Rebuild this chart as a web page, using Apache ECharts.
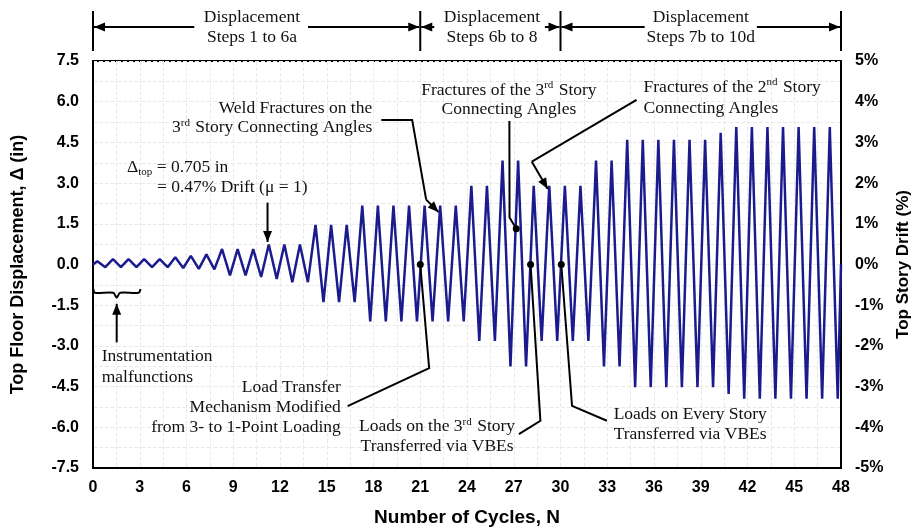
<!DOCTYPE html>
<html><head><meta charset="utf-8">
<script src="https://cdn.jsdelivr.net/npm/echarts@6/dist/echarts.min.js"></script>
<style>html,body{margin:0;padding:0;background:#fff}#c{width:920px;height:532px}</style>
</head><body><div id="c"></div>
<script>
// ---- data (inches of top-floor displacement, per loading cycle) ----
const peakDisp = [0.12,0.2,0.2,0.2,0.2,0.27,0.32,0.37,0.57,0.57,0.57,0.74,0.74,0.74,
  1.46,1.46,1.46,2.17,2.17,2.17,2.17,2.17,2.17,2.17,2.9,2.9,3.83,3.83,2.9,2.9,2.9,2.9,
  3.83,3.83,4.6,4.6,4.6,4.6,4.6,4.6,4.85,5.07,5.07,5.07,5.07,5.07,5.07,5.07];
const troughDisp = [-0.1,-0.1,-0.1,-0.1,-0.1,-0.13,-0.16,-0.18,-0.4,-0.4,-0.46,-0.53,-0.65,-0.65,
  -1.39,-1.39,-1.39,-2.1,-2.1,-2.1,-2.1,-2.1,-2.1,-2.1,-2.82,-2.82,-3.76,-3.76,-2.82,-2.82,-2.82,-2.82,
  -3.76,-3.76,-4.52,-4.52,-4.52,-4.52,-4.52,-4.52,-4.77,-4.95,-4.95,-4.95,-4.95,-4.95,-4.95,-4.95];
const peakPhase = 0.28, troughPhase = 0.79;   // position of peak / trough within each cycle
const xMin = 0, xMax = 48, xStep = 3;
const dispMin = -7.5, dispMax = 7.5, dispStep = 1.5;
const driftMin = -5, driftMax = 5, driftStep = 1;
const stepBounds = [0, 21, 30, 48];
const stepLabels = [['Displacement','Steps 1 to 6a'],['Displacement','Steps 6b to 8'],['Displacement','Steps 7b to 10d']];
const eventCycles = [21, 28.08, 30.05];

const pts = [[0, 0]];
for (let k = 0; k < peakDisp.length; k++) {
  pts.push([k + peakPhase, peakDisp[k]]);
  pts.push([k + troughPhase, troughDisp[k]]);
}
pts.push([xMax, 0]);

const serif = '"Liberation Serif","Times New Roman",serif';
const sans = '"Liberation Sans",Arial,sans-serif';
const gridCol = '#e9e9e9';
const chart = echarts.init(document.getElementById('c'));
const splitStyle = {show:true, lineStyle:{color:gridCol, type:'dashed', width:1}};
chart.setOption({
  animation:false,
  grid:{left:93, right:77, top:61, bottom:63, show:true, borderColor:'#000', borderWidth:2},
  xAxis:{type:'value', min:xMin, max:xMax, interval:xStep,
    axisLine:{onZero:false, lineStyle:{color:'#000', width:2}}, axisTick:{show:false},
    axisLabel:{color:'#000', fontWeight:'bold', fontSize:16, fontFamily:sans, margin:12},
    splitLine:splitStyle, minorTick:{show:false, splitNumber:2}, minorSplitLine:splitStyle,
    name:'Number of Cycles, N', nameLocation:'middle', nameGap:40,
    nameTextStyle:{color:'#000', fontWeight:'bold', fontSize:19, fontFamily:sans}},
  yAxis:[
    {type:'value', min:dispMin, max:dispMax, interval:dispStep, position:'left',
     axisLine:{show:true, onZero:false, lineStyle:{color:'#000', width:2}}, axisTick:{show:false},
     axisLabel:{color:'#000', fontWeight:'bold', fontSize:16, fontFamily:sans, margin:14,
       formatter:v => v.toFixed(1)},
     splitLine:splitStyle, minorTick:{show:false, splitNumber:2}, minorSplitLine:splitStyle,
     name:'Top Floor Displacement, \u0394 (in)', nameLocation:'middle', nameGap:66, nameRotate:90,
     nameTextStyle:{color:'#000', fontWeight:'bold', fontSize:18, fontFamily:sans}},
    {type:'value', min:driftMin, max:driftMax, interval:driftStep, position:'right',
     axisLine:{show:true, onZero:false, lineStyle:{color:'#000', width:2}}, axisTick:{show:false},
     axisLabel:{color:'#000', fontWeight:'bold', fontSize:16, fontFamily:sans, margin:14,
       formatter:'{value}%'},
     splitLine:{show:false},
     name:'Top Story Drift (%)', nameLocation:'middle', nameGap:54, nameRotate:90,
     nameTextStyle:{color:'#000', fontWeight:'bold', fontSize:17, fontFamily:sans}}
  ],
  series:[{type:'line', data:pts, symbol:'none', showSymbol:false, z:3,
    lineStyle:{color:'#1b1b8e', width:2.5}}]
});

// ---- annotations, anchored in data coordinates ----
const P = (n, v) => chart.convertToPixel({xAxisIndex:0, yAxisIndex:0}, [n, v]);
const G = [];
const line = (points, w) => G.push({type:'polyline', silent:true, z:10,
  shape:{points}, style:{stroke:'#000', lineWidth:w || 2, fill:null}});
const head = (tip, from, len, hw) => {
  len = len || 11; hw = hw || 4.5;
  const dx = tip[0]-from[0], dy = tip[1]-from[1], L = Math.hypot(dx, dy);
  const ux = dx/L, uy = dy/L, bx = tip[0]-ux*len, by = tip[1]-uy*len;
  G.push({type:'polygon', silent:true, z:11, shape:{points:[tip,[bx-uy*hw, by+ux*hw],[bx+uy*hw, by-ux*hw]]},
    style:{fill:'#000'}});
};
const arrow = (from, to) => { line([from, to]); head(to, from); };
const FS = 17.5;
const rich = {n:{fontSize:FS, fontFamily:serif, fill:'#111'},
  s:{fontSize:11, fontFamily:serif, fill:'#111', verticalAlign:'top', padding:[0,1,9,0]},
  b:{fontSize:11, fontFamily:serif, fill:'#111', padding:[9,0,0,0]}};
const txt = (p, text, align) => G.push({type:'text', silent:true, z:12, x:p[0], y:p[1],
  style:{text, rich, font:FS + 'px ' + serif, fill:'#111', align:align || 'left', verticalAlign:'middle'}});

// top step brackets
const yTop = P(0, dispMax)[1];
stepBounds.forEach(n => { const x = P(n, 0)[0]; line([[x, yTop-50],[x, yTop-10]], 2); });
const arrowGaps = [[6.5, 13.8], [21.9, 29.0], [35.4, 42.6]];
const textCenters = [10.2, 25.6, 39.0];
for (let i = 0; i < 3; i++) {
  const ya = yTop - 34;
  const xl = P(stepBounds[i],0)[0], xr = P(stepBounds[i+1],0)[0];
  const g1 = P(arrowGaps[i][0],0)[0], g2 = P(arrowGaps[i][1],0)[0];
  arrow([g1, ya], [xl+1, ya]);
  arrow([g2, ya], [xr-1, ya]);
  const xc = P(textCenters[i],0)[0];
  txt([xc, yTop-44], '{n|' + stepLabels[i][0] + '}', 'center');
  txt([xc, yTop-24], '{n|' + stepLabels[i][1] + '}', 'center');
}

// Weld fractures
txt(P(17.92, 5.77), '{n|Weld Fractures on the}', 'right');
txt(P(17.92, 5.04), '{n|3}{s|rd}{n| Story Connecting Angles}', 'right');
line([P(18.5, 5.33), P(20.48, 5.33), P(21.38, 2.39)]);
arrow(P(21.38, 2.39), P(22.18, 1.93));

// Delta top
txt(P(2.18, 3.57), '{n|\u0394}{b|top}{n| = 0.705 in}', 'left');
txt(P(4.1, 2.83), '{n|= 0.47% Drift (\u03bc = 1)}', 'left');
arrow(P(11.2, 2.28), P(11.2, 0.83));

// Fractures 3rd story
txt(P(26.69, 6.43), '{n|Fractures of the 3}{s|rd}{n| Story}', 'center');
txt(P(26.69, 5.70), '{n|Connecting Angles}', 'center');
line([P(26.72, 5.29), P(26.73, 1.73), P(27.16, 1.32)]);
G.push({type:'circle', silent:true, z:12, shape:{cx:P(27.16,1.32)[0], cy:P(27.16,1.32)[1], r:3.5}, style:{fill:'#000'}});

// Fractures 2nd story
txt(P(35.33, 6.54), '{n|Fractures of the 2}{s|nd}{n| Story}', 'left');
txt(P(35.33, 5.77), '{n|Connecting Angles}', 'left');
line([P(34.88, 6.07), P(28.16, 3.79)]);
arrow(P(28.16, 3.79), P(29.18, 2.78));

// event dots at zero crossings
eventCycles.forEach(n => { const p = P(n, 0);
  G.push({type:'circle', silent:true, z:12, shape:{cx:p[0], cy:p[1], r:3.5}, style:{fill:'#000'}}); });

// Load transfer mechanism
line([P(eventCycles[0], 0), P(21.57, -3.82), P(16.34, -5.22)]);
txt(P(15.9, -4.52), '{n|Load Transfer}', 'right');
txt(P(15.9, -5.26), '{n|Mechanism Modified}', 'right');
txt(P(15.9, -5.99), '{n|from 3- to 1-Point Loading}', 'right');

// Loads on 3rd story
line([P(eventCycles[1], 0), P(28.71, -5.76), P(27.33, -6.25)]);
txt(P(22.08, -5.96), '{n|Loads on the 3}{s|rd}{n| Story}', 'center');
txt(P(22.08, -6.69), '{n|Transferred via VBEs}', 'center');

// Loads on every story
line([P(eventCycles[2], 0), P(30.74, -5.21), P(32.98, -5.76)]);
txt(P(33.41, -5.51), '{n|Loads on Every Story}', 'left');
txt(P(33.41, -6.25), '{n|Transferred via VBEs}', 'left');

// Instrumentation malfunctions brace
G.push({type:'polyline', silent:true, z:10, shape:{smooth:0.3, points:[
  P(0.02,-0.9), P(0.12,-1.04), P(1.3,-1.04), P(1.52,-1.22), P(1.74,-1.04), P(2.92,-1.04), P(3.05,-0.9)]},
  style:{stroke:'#000', lineWidth:2, fill:null}});
arrow(P(1.52, -2.87), P(1.52, -1.45));
txt(P(0.56, -3.38), '{n|Instrumentation}', 'left');
txt(P(0.56, -4.15), '{n|malfunctions}', 'left');

chart.setOption({graphic:{elements:G}});
</script></body></html>
